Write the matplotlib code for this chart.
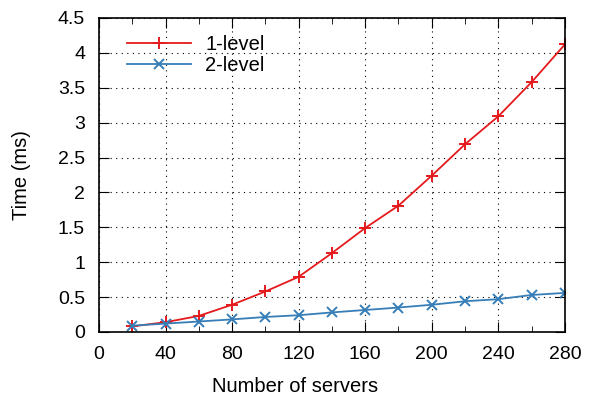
import numpy as np
import matplotlib.pyplot as plt
from matplotlib.ticker import MultipleLocator

# Time per lookup vs. number of servers
servers = [20, 40, 60, 80, 100, 120, 140, 160, 180, 200, 220, 240, 260, 280]
one_level = [0.08, 0.14, 0.23, 0.39, 0.58, 0.79, 1.13, 1.49, 1.81, 2.24, 2.69, 3.09, 3.58, 4.12]
two_level = [0.09, 0.12, 0.15, 0.18, 0.215, 0.24, 0.28, 0.315, 0.35, 0.39, 0.44, 0.47, 0.53, 0.56]

plt.rcParams['font.family'] = ['Liberation Sans', 'DejaVu Sans']

fig = plt.figure(figsize=(5.89, 3.99), dpi=100)
ax = fig.add_axes([0.168, 0.168, 0.791, 0.787])

ax.plot(servers, one_level, color='#e41a1c', lw=1.3, marker='+', ms=8, mew=1.4, label='1-level')
ax.plot(servers, two_level, color='#377eb8', lw=1.3, marker='x', ms=7, mew=1.4, label='2-level')

ax.set_xlim(0, 280)
ax.set_ylim(0, 4.5)
ax.xaxis.set_major_locator(MultipleLocator(40))
ax.xaxis.set_minor_locator(MultipleLocator(20))
ax.yaxis.set_major_locator(MultipleLocator(0.5))
ax.yaxis.set_major_formatter(plt.FuncFormatter(lambda v, _: f"{v:g}"))

ax.grid(True, which='major', color='black', linestyle=(0, (1, 4)), linewidth=0.8)
ax.tick_params(which='both', direction='in', top=True, right=True, labelsize=14, pad=10)
ax.tick_params(which='major', length=7)
ax.tick_params(which='minor', length=4)
for s in ax.spines.values():
    s.set_linewidth(1.2)

# gnuplot centres the x label on the canvas, not the plot area
ax.set_xlabel('Number of servers', fontsize=14.5)
ax.xaxis.set_label_coords(0.42, -0.145)
ax.set_ylabel('Time (ms)', fontsize=14.5)
ax.yaxis.set_label_coords(-0.145, 0.5)
ax.legend(loc='upper left', bbox_to_anchor=(0.06, 0.945), frameon=False, fontsize=14.5,
          handlelength=3.2, borderpad=0, borderaxespad=0, labelspacing=0.1,
          handletextpad=0.7)

fig.savefig('out.png', dpi=100)
